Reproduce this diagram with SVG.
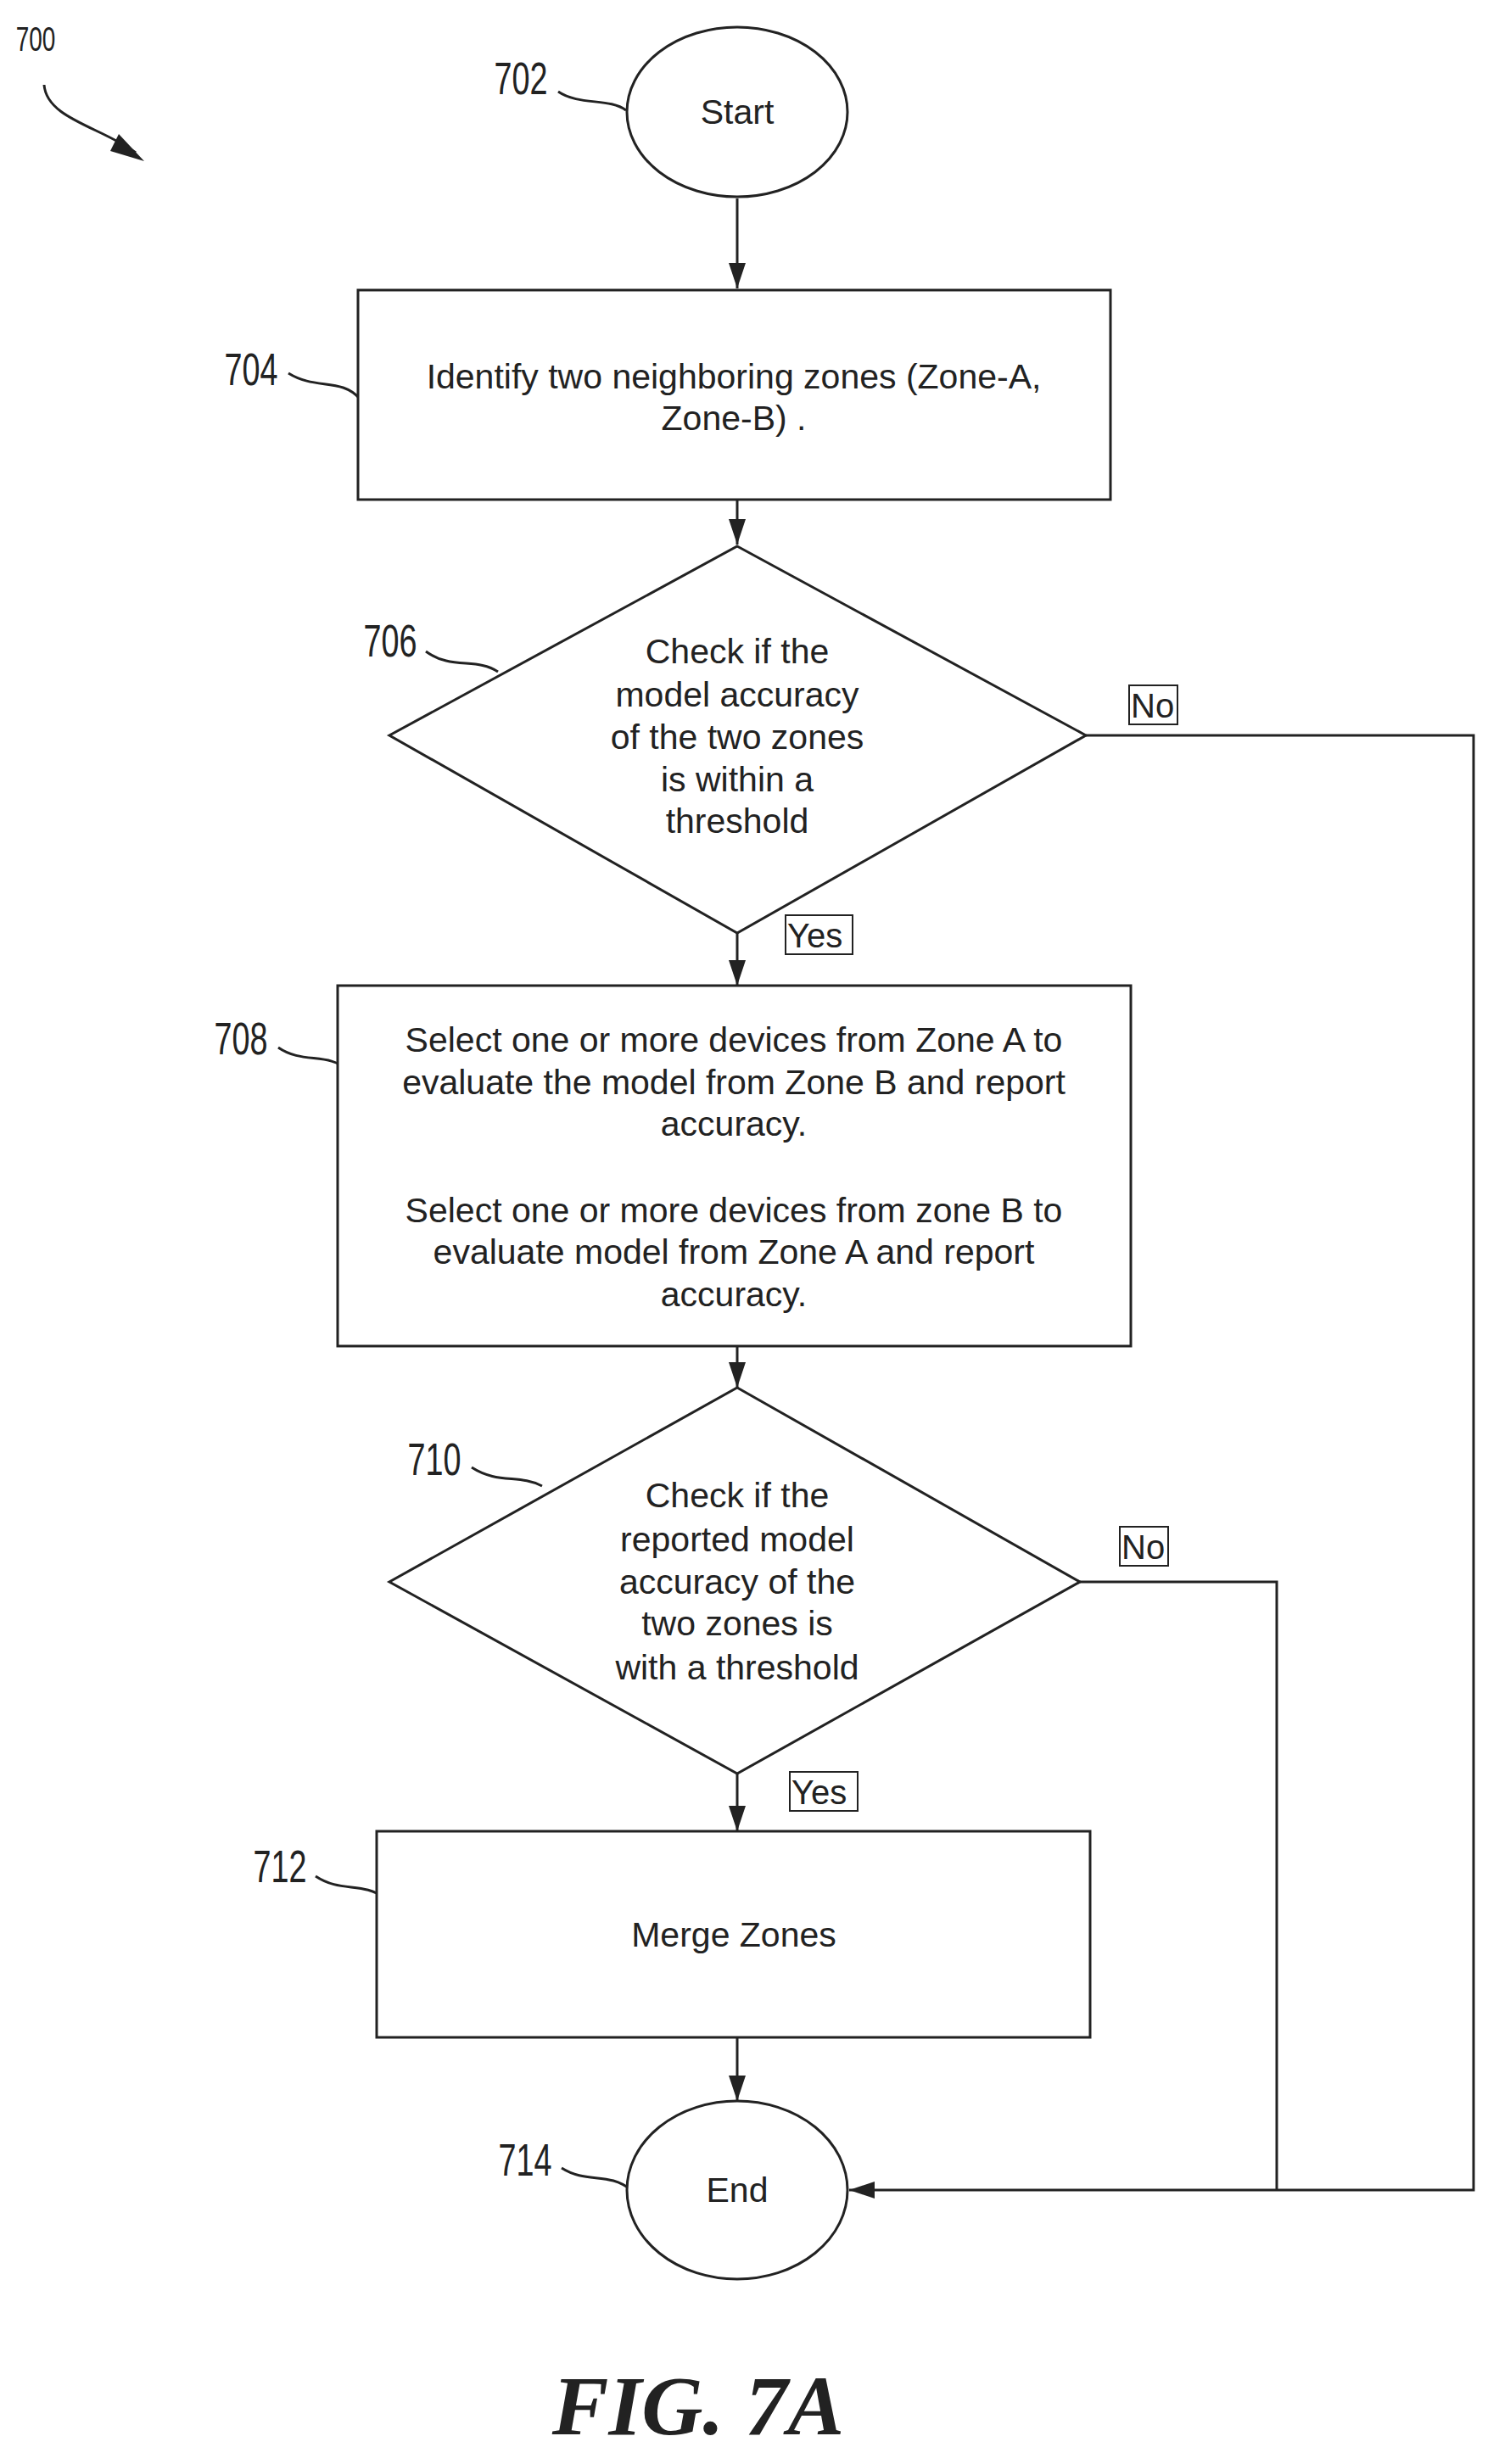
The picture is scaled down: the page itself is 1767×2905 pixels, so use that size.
<svg xmlns="http://www.w3.org/2000/svg" width="1767" height="2905" viewBox="0 0 1767 2905">
<style>
.s{fill:none;stroke:#222;stroke-width:3}
.n{fill:#fff;stroke:#222;stroke-width:3}
.t{font-family:"Liberation Sans",Arial,sans-serif;font-size:41px;fill:#222;text-anchor:middle;dominant-baseline:central}
.r{font-family:"Liberation Sans Narrow","Liberation Sans",sans-serif;font-size:54px;fill:#222;text-anchor:middle;dominant-baseline:central}
.l{font-family:"Liberation Sans",Arial,sans-serif;font-size:40px;fill:#222;dominant-baseline:central}
.lb{fill:#fff;stroke:#222;stroke-width:2}
</style>
<defs>
<marker id="a" markerUnits="userSpaceOnUse" markerWidth="32" markerHeight="22" refX="30" refY="11" orient="auto">
<path d="M0,1 L30,11 L0,21 z" fill="#222"/>
</marker>
</defs>
<rect width="1767" height="2905" fill="#fff"/>
<g id="refs">
<g transform="translate(42 46) scale(0.7 1)"><text class="r" x="0" y="0" style="font-size:40px">700</text></g>
<path class="s" d="M52,100 C55,140 120,150 160,180"/>
<path d="M140,158 L170,190 L130,178 z" fill="#222"/>
<g transform="translate(614 92) scale(0.7 1)"><text class="r" x="0" y="0">702</text></g>
<path class="s" d="M658,108 C683,125 718,115 738,130"/>
<g transform="translate(296 435) scale(0.7 1)"><text class="r" x="0" y="0">704</text></g>
<path class="s" d="M340,440 C372,460 402,445 424,470"/>
<g transform="translate(460 755) scale(0.7 1)"><text class="r" x="0" y="0">706</text></g>
<path class="s" d="M502,768 C532,790 562,775 587,792"/>
<g transform="translate(284 1224) scale(0.7 1)"><text class="r" x="0" y="0">708</text></g>
<path class="s" d="M328,1235 C357,1255 387,1240 410,1262"/>
<g transform="translate(512 1720) scale(0.7 1)"><text class="r" x="0" y="0">710</text></g>
<path class="s" d="M556,1730 C587,1750 612,1738 639,1752"/>
<g transform="translate(330 2200) scale(0.7 1)"><text class="r" x="0" y="0">712</text></g>
<path class="s" d="M372,2212 C402,2232 427,2218 454,2238"/>
<g transform="translate(619 2546) scale(0.7 1)"><text class="r" x="0" y="0">714</text></g>
<path class="s" d="M662,2556 C692,2575 717,2560 744,2582"/>
</g>
<g id="connectors">
<path class="s" d="M869,234 V340" marker-end="url(#a)"/>
<path class="s" d="M869,589 V642" marker-end="url(#a)"/>
<path class="s" d="M869,1100 V1162" marker-end="url(#a)"/>
<path class="s" d="M869,1587 V1636" marker-end="url(#a)"/>
<path class="s" d="M869,2091 V2159" marker-end="url(#a)"/>
<path class="s" d="M869,2402 V2477" marker-end="url(#a)"/>
<path class="s" d="M1280,867 H1737 V2582 H1001" marker-end="url(#a)"/>
<path class="s" d="M1273,1865 H1505 V2582"/>
<rect class="lb" x="1331" y="808" width="57" height="46"/><text class="l" x="1333" y="832">No</text>
<rect class="lb" x="926" y="1079" width="79" height="46"/><text class="l" x="928" y="1103">Yes</text>
<rect class="lb" x="1320" y="1800" width="57" height="46"/><text class="l" x="1322" y="1824">No</text>
<rect class="lb" x="931" y="2089" width="80" height="46"/><text class="l" x="933" y="2113">Yes</text>
</g>
<g id="n702"><ellipse class="n" cx="869" cy="132" rx="130" ry="100"/><text class="t" x="869" y="132">Start</text></g>
<g id="n704"><rect class="n" x="422" y="342" width="887" height="247"/>
<text class="t" x="865" y="444">Identify two neighboring zones (Zone-A,</text><text class="t" x="865" y="493">Zone-B) .</text></g>
<g id="n706"><path class="n" d="M869,644 L1280,867 L869,1100 L459,867 z"/>
<text class="t" x="869" y="768">Check if the</text><text class="t" x="869" y="819">model accuracy</text><text class="t" x="869" y="869">of the two zones</text><text class="t" x="869" y="919">is within a</text><text class="t" x="869" y="968">threshold</text></g>
<g id="n708"><rect class="n" x="398" y="1162" width="935" height="425"/>
<text class="t" x="865" y="1226">Select one or more  devices from Zone A to</text>
<text class="t" x="865" y="1276">evaluate the model from Zone B  and report</text>
<text class="t" x="865" y="1325">accuracy.</text>
<text class="t" x="865" y="1427">Select one or more devices from zone B to</text>
<text class="t" x="865" y="1476">evaluate model from Zone A and report</text>
<text class="t" x="865" y="1526">accuracy.</text></g>
<g id="n710"><path class="n" d="M869,1636 L1273,1865 L869,2091 L459,1865 z"/>
<text class="t" x="869" y="1763">Check if the</text><text class="t" x="869" y="1815">reported model</text><text class="t" x="869" y="1865">accuracy of the</text><text class="t" x="869" y="1914">two zones is</text><text class="t" x="869" y="1966">with a threshold</text></g>
<g id="n712"><rect class="n" x="444" y="2159" width="841" height="243"/><text class="t" x="865" y="2281">Merge Zones</text></g>
<g id="n714"><ellipse class="n" cx="869" cy="2582" rx="130" ry="105"/><text class="t" x="869" y="2582">End</text></g>
<text x="823" y="2870" style="font-family:'Liberation Serif','Times New Roman',serif;font-weight:bold;font-style:italic;font-size:100px;fill:#222;text-anchor:middle">FIG. 7A</text>
</svg>
